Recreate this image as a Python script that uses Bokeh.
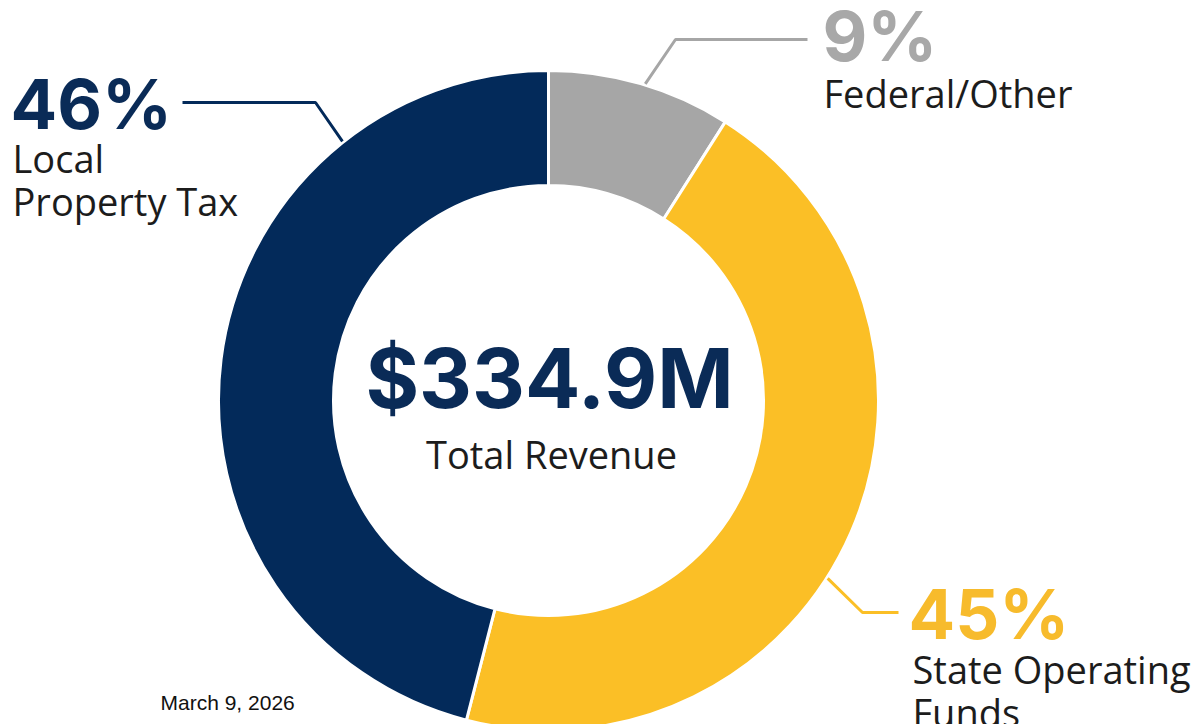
import math
from bokeh.plotting import figure
from bokeh.models import Range1d, ColumnDataSource
from bokeh.core.properties import value
from bokeh.embed import file_html
from bokeh.resources import INLINE

# ---------------- data ----------------
categories = ["Federal/Other", "State Operating Funds", "Local Property Tax"]
shares = [9, 45, 46]
label_lines = [["Federal/Other"], ["State Operating", "Funds"], ["Local", "Property Tax"]]
total_text = "$334.9M"
total_caption = "Total Revenue"
date_text = "March 9, 2026"
colors = ["#a6a6a6", "#fbbf26", "#032a5a"]
pct_colors = ["#a8a8a8", "#f7bb2c", "#0a2b57"]

# ---------------- layout (page pixels, y downward) ----------------
W, H = 1192, 724
PAGE_H = 724
cx_px, cy_px = 548, 400
R_OUT, R_IN = 330, 215
BASE_FIX = 0.39  # renderer baseline offset, in em


def X(px):
    return px


def Y(py):
    return PAGE_H - py


def TY(baseline_px, size):
    return PAGE_H - (baseline_px - BASE_FIX * size)


p = figure(width=W, height=H, output_backend="svg", toolbar_location=None,
           x_range=Range1d(0, W), y_range=Range1d(0, H),
           min_border=0, outline_line_color=None, background_fill_color="white",
           border_fill_color="white")
p.xaxis.visible = False
p.yaxis.visible = False
p.grid.visible = False

# wedges, clockwise from 12 o'clock
starts, ends = [], []
acc = 0.0
tot = float(sum(shares))
for s in shares:
    a0 = math.pi / 2 - 2 * math.pi * acc / tot
    acc += s
    a1 = math.pi / 2 - 2 * math.pi * acc / tot
    starts.append(a0)
    ends.append(a1)

src = ColumnDataSource(dict(x=[X(cx_px)] * 3, y=[Y(cy_px)] * 3, start=starts, end=ends,
                            color=colors))
p.annular_wedge(x="x", y="y", inner_radius=R_IN, outer_radius=R_OUT, start_angle="start",
                end_angle="end", direction="clock", fill_color="color", line_color="white",
                line_width=3, source=src)

# leader lines: start angle on ring (deg clockwise from top), elbow, end (page px)
leader_angles = [17, 122.5, 321.5]
leader_elbows = [(675, 39), (862, 612), (315, 102)]
leader_ends = [(807, 39), (898, 612), (182, 102)]
for i in range(3):
    th = math.radians(leader_angles[i])
    sx = cx_px + (R_OUT + 1) * math.sin(th)
    sy = cy_px - (R_OUT + 1) * math.cos(th)
    ex, ey = leader_elbows[i]
    fx, fy = leader_ends[i]
    p.line([X(sx), X(ex), X(fx)], [Y(sy), Y(ey), Y(fy)], line_color=colors[i], line_width=3)

# percentage labels
PCT_SIZE, LBL_SIZE = 69, 38
pct_pos = [(822, 62), (908, 640), (10, 130)]
text_pos = [(823, 107), (912, 683), (12, 172)]
line_gap = 43
for i in range(3):
    p.text(x=[X(pct_pos[i][0])], y=[TY(pct_pos[i][1], PCT_SIZE)], text=[f"{shares[i]}%"],
           text_font=value("Inter"), text_font_style="bold", text_font_size=f"{PCT_SIZE}px",
           text_color=pct_colors[i], text_align="left", text_baseline="alphabetic")
    for j, ln in enumerate(label_lines[i]):
        p.text(x=[X(text_pos[i][0])], y=[TY(text_pos[i][1] + j * line_gap, LBL_SIZE)],
               text=[ln], text_font=value("Open Sans"), text_font_size=f"{LBL_SIZE}px",
               text_color="#1c1c1c", text_align="left", text_baseline="alphabetic")

# centre texts
p.text(x=[X(cx_px + 1)], y=[TY(410, 82)], text=[total_text], text_font=value("Inter"),
       text_font_style="bold", text_font_size="82px", text_color="#0a2b57",
       text_align="center", text_baseline="alphabetic")
p.text(x=[X(cx_px + 3)], y=[TY(468, LBL_SIZE)], text=[total_caption],
       text_font=value("Open Sans"), text_font_size=f"{LBL_SIZE}px", text_color="#1c1c1c",
       text_align="center", text_baseline="alphabetic")

# date
p.text(x=[X(160)], y=[TY(710, 21)], text=[date_text], text_font=value("Liberation Sans"),
       text_font_size="21px", text_color="#111111", text_align="left",
       text_baseline="alphabetic")

open("out.html", "w").write(file_html(p, INLINE))
